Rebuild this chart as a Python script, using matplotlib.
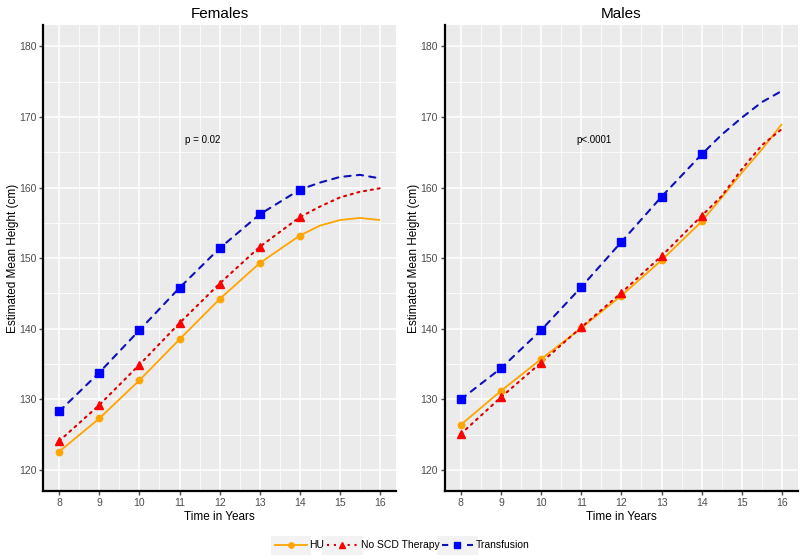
import matplotlib
matplotlib.use("Agg")
import matplotlib.pyplot as plt
from matplotlib.lines import Line2D
from matplotlib.patches import Rectangle
from matplotlib.ticker import MultipleLocator

plt.rcParams["font.family"] = ["Liberation Sans", "DejaVu Sans"]

# years with markers, and the fitted-curve sample years
YEARS = [8, 9, 10, 11, 12, 13, 14]
CURVE_YEARS = [8, 9, 10, 11, 12, 13, 14, 14.5, 15, 15.5, 16]

# Females
F_HU = [122.6, 127.3, 132.7, 138.5, 144.2, 149.3, 153.2]
F_NONE = [124.1, 129.2, 134.9, 140.8, 146.4, 151.6, 155.8]
F_TRANS = [128.3, 133.8, 139.8, 145.8, 151.4, 156.2, 159.7]
F_HU_CURVE = F_HU + [154.6, 155.4, 155.7, 155.4]
F_NONE_CURVE = F_NONE + [157.3, 158.6, 159.4, 159.9]
F_TRANS_CURVE = F_TRANS + [160.7, 161.5, 161.8, 161.3]

# Males
M_HU = [126.4, 131.2, 135.7, 140.1, 144.7, 149.7, 155.2]
M_NONE = [125.1, 130.3, 135.2, 140.2, 145.1, 150.3, 156.0]
M_TRANS = [130.0, 134.4, 139.8, 145.9, 152.3, 158.7, 164.7]
M_HU_CURVE = M_HU + [158.6, 162.1, 165.4, 169.0]
M_NONE_CURVE = M_NONE + [158.8, 162.6, 166.0, 168.3]
M_TRANS_CURVE = M_TRANS + [167.5, 169.9, 172.1, 173.7]

PANELS = [
    ("Females", "p = 0.02", 11.58, (F_HU, F_NONE, F_TRANS), (F_HU_CURVE, F_NONE_CURVE, F_TRANS_CURVE)),
    ("Males", "p<.0001", 11.32, (M_HU, M_NONE, M_TRANS), (M_HU_CURVE, M_NONE_CURVE, M_TRANS_CURVE)),
]
LABELS = ["HU", "No SCD Therapy", "Transfusion"]

ORANGE = "#FFA500"; RED = "#FF0000"; BLUE = "#0000FF"
STYLES = [
    dict(color=ORANGE, ls="-", lw=1.3, marker="o", ms=4.6, mc=ORANGE),
    dict(color="#D80000", ls=(0, (1, 2.3)), lw=1.5, marker="^", ms=5.8, mc=RED),
    dict(color="#1010B8", ls=(0, (3, 3)), lw=1.5, marker="s", ms=5.4, mc=BLUE),
]
PANEL_BG = "#EBEBEB"; TICK = "#4D4D4D"

fig = plt.figure(figsize=(8, 5.6), dpi=100)
fig.patch.set_facecolor("white")
boxes = [(0.054, 0.123, 0.441, 0.832), (0.556, 0.123, 0.4415, 0.832)]

for box, (title, ptxt, px, marks, curves) in zip(boxes, PANELS):
    ax = fig.add_axes(box)
    ax.set_facecolor(PANEL_BG)
    for st, m, c in zip(STYLES, marks, curves):
        ax.plot(CURVE_YEARS, c, color=st["color"], ls=st["ls"], lw=st["lw"],
                dash_capstyle="round", solid_capstyle="butt", zorder=3)
        ax.plot(YEARS, m, ls="none", marker=st["marker"], ms=st["ms"],
                mfc=st["mc"], mec=st["mc"], zorder=4)
    ax.set_xlim(7.6, 16.4); ax.set_ylim(117, 183)
    ax.xaxis.set_major_locator(MultipleLocator(1)); ax.xaxis.set_minor_locator(MultipleLocator(0.5))
    ax.yaxis.set_major_locator(MultipleLocator(10)); ax.yaxis.set_minor_locator(MultipleLocator(5))
    ax.grid(which="major", color="white", lw=1.1, zorder=0)
    ax.grid(which="minor", color="white", lw=0.55, zorder=0)
    ax.set_axisbelow(True)
    for s in ("top", "right"):
        ax.spines[s].set_visible(False)
    for s in ("left", "bottom"):
        ax.spines[s].set_color("black"); ax.spines[s].set_linewidth(1.6)
    ax.tick_params(which="major", length=3, width=1, color=TICK, labelcolor=TICK,
                   labelsize=7.5, pad=2)
    ax.tick_params(which="minor", length=0)
    ax.set_title(title, fontsize=11, pad=5)
    ax.set_xlabel("Time in Years", fontsize=8.5, labelpad=2)
    ax.set_ylabel("Estimated Mean Height (cm)", fontsize=8.5, labelpad=0)
    ax.text(px, 166.7, ptxt, fontsize=7, ha="center", va="center", color="black")

handles = [Line2D([], [], color=st["color"], ls=st["ls"], lw=st["lw"], marker=st["marker"],
                  ms=st["ms"] - 0.8, mfc=st["mc"], mec=st["mc"]) for st in STYLES]
leg = fig.legend(handles, LABELS, loc="center", bbox_to_anchor=(0.503, 0.026), ncol=3,
                 frameon=False, fontsize=7.5, handlelength=3.0, handletextpad=0.25,
                 columnspacing=0.25)

# grey key backgrounds like ggplot legend keys
fig.canvas.draw()
r = fig.canvas.get_renderer()
for ln in leg.get_lines():
    bb = ln.get_window_extent(r).transformed(fig.transFigure.inverted())
    fig.patches.append(Rectangle((bb.x0 - 0.002, 0.026 - 0.017), bb.width + 0.004, 0.034,
                                 transform=fig.transFigure, facecolor="#F2F2F2",
                                 edgecolor="none", zorder=-1))

fig.savefig("out.png", dpi=100, facecolor="white")
